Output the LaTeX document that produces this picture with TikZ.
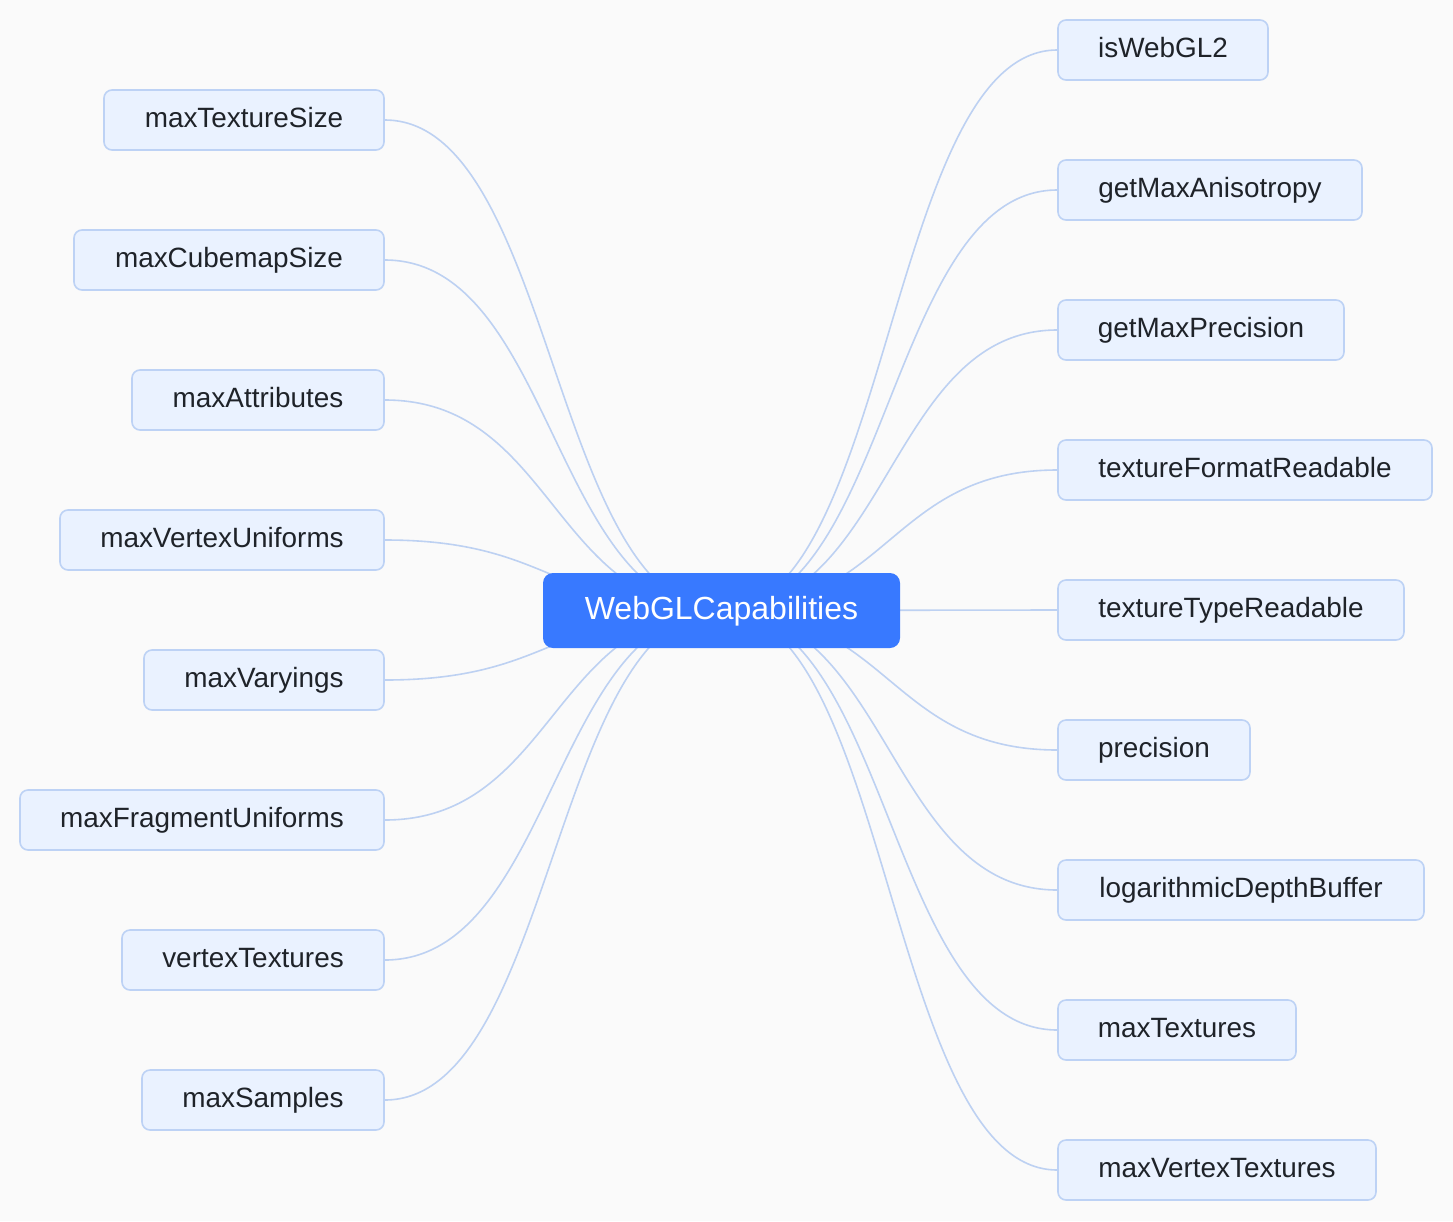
\documentclass[tikz,border=0pt]{standalone}
\usepackage{fontspec}
\setmainfont{Liberation Sans}
\usetikzlibrary{calc,backgrounds}
\definecolor{bgc}{RGB}{250,250,250}
\definecolor{leaffill}{RGB}{234,242,255}
\definecolor{leafborder}{RGB}{189,210,245}
\definecolor{edgec}{RGB}{189,209,242}
\definecolor{rootfill}{RGB}{56,121,255}
\definecolor{txt}{RGB}{31,35,41}
\newcommand\leafnode[5]{%
  \node[leaf, minimum width={#3-#2}] (#1) at ({(#2+#3)/2},{#4+30}) {#5};}
\newcommand\ledge[1]{%
  \draw[edge] let \p1=(c.center), \p2=(#1.east) in
    (\p1) .. controls ({(\x1+\x2)/2},\y1) and ({(\x1+\x2)/2},\y2) .. (\p2);}
\newcommand\redge[1]{%
  \draw[edge] let \p1=(c.center), \p2=(#1.west) in
    (\p1) .. controls ({(\x1+\x2)/2},\y1) and ({(\x1+\x2)/2},\y2) .. (\p2);}
\begin{document}
\begin{tikzpicture}[x=1pt,y=-1pt,
  leaf/.style={draw=leafborder, fill=leaffill, line width=1.6pt,
    rounded corners=8pt, inner sep=0pt, minimum height=60pt,
    text height=20pt, text depth=6pt,
    text=txt, font=\fontsize{27.9}{32}\selectfont},
  root/.style={fill=rootfill, draw=none, rounded corners=10pt, inner sep=0pt,
    minimum width=357pt, minimum height=75pt, text=white,
    text height=24pt, text depth=7pt,
    font=\fontsize{32}{38}\selectfont},
  edge/.style={draw=edgec, line width=1.6pt}]
\begin{pgfonlayer}{background}
  \fill[bgc] (0,0) rectangle (1453,1221);
\end{pgfonlayer}
\useasboundingbox (0,0) rectangle (1453,1221);
\node[root] (c) at (721.5,610.5) {WebGLCapabilities};
% left
\leafnode{l1}{104}{384}{90}{maxTextureSize}
\leafnode{l2}{74}{384}{230}{maxCubemapSize}
\leafnode{l3}{132}{384}{370}{maxAttributes}
\leafnode{l4}{60}{384}{510}{maxVertexUniforms}
\leafnode{l5}{144}{384}{650}{maxVaryings}
\leafnode{l6}{20}{384}{790}{maxFragmentUniforms}
\leafnode{l7}{122}{384}{930}{vertexTextures}
\leafnode{l8}{142}{384}{1070}{maxSamples}
% right
\leafnode{r1}{1058}{1268}{20}{isWebGL2}
\leafnode{r2}{1058}{1362}{160}{getMaxAnisotropy}
\leafnode{r3}{1058}{1344}{300}{getMaxPrecision}
\leafnode{r4}{1058}{1432}{440}{textureFormatReadable}
\leafnode{r5}{1058}{1404}{580}{textureTypeReadable}
\leafnode{r6}{1058}{1250}{720}{precision}
\leafnode{r7}{1058}{1424}{860}{logarithmicDepthBuffer}
\leafnode{r8}{1058}{1296}{1000}{maxTextures}
\leafnode{r9}{1058}{1376}{1140}{maxVertexTextures}
\begin{pgfonlayer}{background}
  \foreach \nm in {l1,l2,l3,l4,l5,l6,l7,l8} {\ledge{\nm}}
  \foreach \nm in {r1,r2,r3,r4,r5,r6,r7,r8,r9} {\redge{\nm}}
\end{pgfonlayer}
\end{tikzpicture}
\end{document}
